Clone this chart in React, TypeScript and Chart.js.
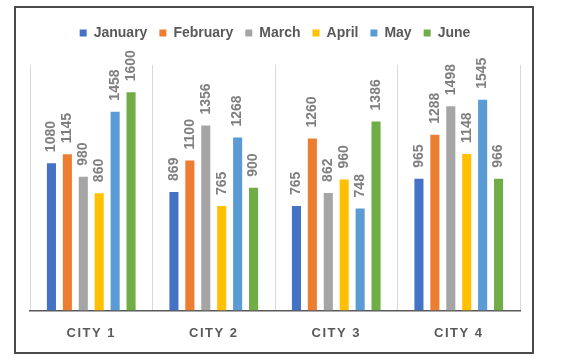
import React, { useEffect, useRef } from "react";
import { Chart, registerables } from "chart.js";

Chart.register(...registerables);

const categories = ["CITY 1", "CITY 2", "CITY 3", "CITY 4"];
const months = ["January", "February", "March", "April", "May", "June"];
const january = [1080, 869, 765, 965];
const february = [1145, 1100, 1260, 1288];
const march = [980, 1356, 862, 1498];
const april = [860, 765, 960, 1148];
const may = [1458, 1268, 748, 1545];
const june = [1600, 900, 1386, 966];
const seriesValues = [january, february, march, april, may, june];
const colors = ["#4472C4", "#ED7D31", "#A5A5A5", "#FFC000", "#5B9BD5", "#70AD47"];
const yMax = 1800;

const FONT = "'Liberation Sans', Arial, sans-serif";

const framePlugin = {
  id: "frame",
  beforeInit(chart: any) {
    const lg = chart.legend;
    if (lg && !lg._extra) {
      const fit = lg.fit.bind(lg);
      lg.fit = function () {
        fit();
        this.height += 15;
      };
      lg._extra = true;
    }
  },
  beforeDraw(chart: any) {
    const ctx = chart.ctx;
    ctx.save();
    ctx.fillStyle = "#ffffff";
    ctx.fillRect(0, 0, chart.width, chart.height);
    ctx.strokeStyle = "#4a4a4a";
    ctx.lineWidth = 2;
    ctx.strokeRect(15, 7, 518, 346);
    ctx.restore();
    const s = chart.scales.x;
    if (s && !s._spaced) {
      const orig = s.drawLabels.bind(s);
      s.drawLabels = (area: any) => {
        const c = chart.ctx;
        c.save();
        (c as any).letterSpacing = "1.5px";
        orig(area);
        c.restore();
      };
      s._spaced = true;
    }
  },
};

const labelPlugin = {
  id: "barLabels",
  afterDatasetsDraw(chart: any) {
    const ctx = chart.ctx;
    ctx.save();
    ctx.font = `bold 14px ${FONT}`;
    ctx.fillStyle = "#7f7f7f";
    ctx.textAlign = "left";
    ctx.textBaseline = "middle";
    chart.data.datasets.forEach((ds: any, di: number) => {
      const meta = chart.getDatasetMeta(di);
      meta.data.forEach((el: any, i: number) => {
        ctx.save();
        ctx.translate(el.x, el.y - 11);
        ctx.rotate(-Math.PI / 2);
        ctx.fillText(String(ds.data[i]), 0, 0);
        ctx.restore();
      });
    });
    ctx.restore();
  },
};

export default function App() {
  const ref = useRef<HTMLCanvasElement>(null);
  useEffect(() => {
    if (!ref.current) return;
    const chart = new Chart(ref.current, {
      type: "bar",
      data: {
        labels: categories,
        datasets: months.map((m, i) => ({
          label: m,
          data: seriesValues[i],
          backgroundColor: colors[i],
          borderWidth: 0,
          categoryPercentage: 0.78,
          barPercentage: 0.57,
        })),
      },
      options: {
        responsive: false,
        animation: false,
        layout: { padding: { left: 30, right: 58, top: 14, bottom: 3 } },
        plugins: {
          legend: {
            position: "top",
            labels: {
              boxWidth: 7,
              boxHeight: 7,
              padding: 12,
              color: "#595959",
              font: { family: FONT, size: 14, weight: "bold" },
            },
          },
          tooltip: { enabled: false },
        },
        scales: {
          x: {
            grid: {
              offset: true,
              color: "#d9d9d9",
              drawTicks: false,
            },
            border: { display: true, color: "#595959", width: 1.5 },
            ticks: {
              padding: 15,
              color: "#595959",
              font: { family: FONT, size: 13, weight: "bold" },
            },
          },
          y: {
            display: false,
            min: 0,
            max: yMax,
          },
        },
      },
      plugins: [framePlugin, labelPlugin],
    });
    return () => chart.destroy();
  }, []);
  return (
    <div style={{ position: "fixed", left: 0, top: 0, width: 578, height: 359, background: "#fff" }}>
      <canvas ref={ref} width={578} height={359} style={{ width: 578, height: 359 }} />
    </div>
  );
}
